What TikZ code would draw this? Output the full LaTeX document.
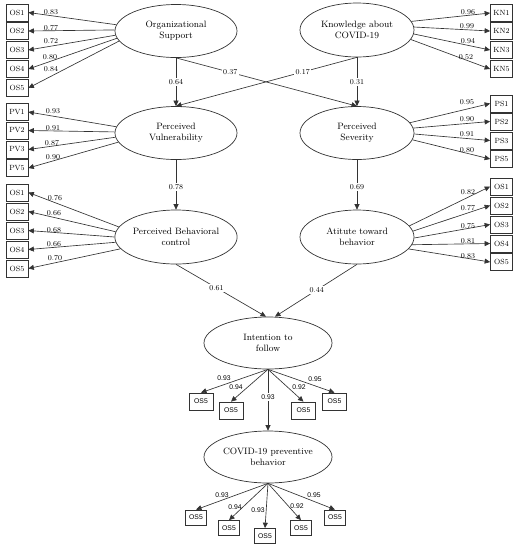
\documentclass[tikz,border=0pt]{standalone}
\usepackage{fontspec}
\newfontfamily\sansf{Liberation Sans}
\usetikzlibrary{shapes.geometric,arrows.meta}
\definecolor{ln}{HTML}{333333}
\tikzset{
  lat/.style={draw=ln, line width=0.7pt, ellipse, inner sep=0pt, align=center,
    font=\fontsize{9.2}{11}\selectfont},
  ind/.style={draw=ln, line width=0.7pt, rectangle, inner sep=0pt, minimum width=22pt,
    minimum height=17pt, font=\fontsize{7.5}{8}\selectfont},
  inds/.style={draw=ln, line width=0.7pt, rectangle, inner sep=0pt, minimum width=24pt,
    minimum height=17pt, font=\sansf\fontsize{6.8}{7}\selectfont},
  indt/.style={draw=ln, line width=0.7pt, rectangle, inner sep=0pt, minimum width=21pt,
    minimum height=15pt, font=\sansf\fontsize{6.8}{7}\selectfont},
  arr/.style={draw=ln, line width=0.65pt, -{Triangle[length=5.5pt,width=5pt]}},
  lbl/.style={inner sep=0pt, font=\fontsize{7.5}{8}\selectfont},
  lbls/.style={inner sep=0pt, font=\sansf\fontsize{6.8}{7}\selectfont},
  mid/.style={fill=white, inner sep=1.5pt, font=\fontsize{7.5}{8}\selectfont},
  mids/.style={fill=white, inner sep=1.5pt, font=\sansf\fontsize{6.8}{7}\selectfont},
}
\begin{document}
\begin{tikzpicture}[x=1pt,y=-1pt]
\useasboundingbox (0,0) rectangle (518,550);
% latent variables
\node[lat, minimum width=122pt, minimum height=53pt] (org) at (176,31) {Organizational\\Support};
\node[lat, minimum width=114pt, minimum height=54pt] (kn) at (357,30) {Knowledge about\\COVID-19};
\node[lat, minimum width=122pt, minimum height=53pt] (vul) at (176,133) {Perceived\\Vulnerability};
\node[lat, minimum width=114pt, minimum height=53pt] (sev) at (357,133) {Perceived\\Severity};
\node[lat, minimum width=122pt, minimum height=54pt] (pbc) at (176,237) {Perceived Behavioral\\control};
\node[lat, minimum width=114pt, minimum height=54pt] (att) at (357,237) {Atitute toward\\behavior};
\node[lat, minimum width=128pt, minimum height=52pt] (int) at (268,343) {Intention to\\follow};
\node[lat, minimum width=128pt, minimum height=52pt] (cov) at (268,457) {COVID-19 preventive\\behavior};

% left indicators: organizational support
\node[ind] (os1) at (17,12.5) {OS1};
\node[ind] (os2) at (17,31) {OS2};
\node[ind] (os3) at (17,50) {OS3};
\node[ind] (os4) at (17,69) {OS4};
\node[ind] (os5) at (17,88) {OS5};
% vulnerability
\node[ind] (pv1) at (17,112) {PV1};
\node[ind] (pv2) at (17,130.5) {PV2};
\node[ind] (pv3) at (17,149.5) {PV3};
\node[ind] (pv5) at (17,168) {PV5};
% behavioral control
\node[ind] (bc1) at (17,192.5) {OS1};
\node[ind] (bc2) at (17,211.5) {OS2};
\node[ind] (bc3) at (17,230.5) {OS3};
\node[ind] (bc4) at (17,249.5) {OS4};
\node[ind] (bc5) at (17,268.5) {OS5};
% right indicators: knowledge
\node[ind] (kn1) at (501.5,13) {KN1};
\node[ind] (kn2) at (501.5,31) {KN2};
\node[ind] (kn3) at (501.5,50) {KN3};
\node[ind] (kn5) at (501.5,69) {KN5};
% severity
\node[ind] (ps1) at (501.5,103.5) {PS1};
\node[ind] (ps2) at (501.5,121.5) {PS2};
\node[ind] (ps3) at (501.5,140.5) {PS3};
\node[ind] (ps5) at (501.5,159) {PS5};
% attitude
\node[ind] (at1) at (501.5,186.5) {OS1};
\node[ind] (at2) at (501.5,205.5) {OS2};
\node[ind] (at3) at (501.5,224.5) {OS3};
\node[ind] (at4) at (501.5,243.5) {OS4};
\node[ind] (at5) at (501.5,262) {OS5};
% intention indicators
\node[inds] (in1) at (201,401.5) {OS5};
\node[inds] (in2) at (231,410.5) {OS5};
\node[inds] (in3) at (303.5,410.5) {OS5};
\node[inds] (in4) at (334.5,401.5) {OS5};
% behavior indicators
\node[indt] (cb1) at (196,517.5) {OS5};
\node[indt] (cb2) at (229,528) {OS5};
\node[indt] (cb3) at (265,536) {OS5};
\node[indt] (cb4) at (301,528) {OS5};
\node[indt] (cb5) at (335,517.5) {OS5};

% loadings: organizational support
\draw[arr] (org.174) -- (os1.east);
\draw[arr] (org.179) -- (os2.east);
\draw[arr] (org.184) -- (os3.east);
\draw[arr] (org.187) -- (os4.east);
\draw[arr] (org.190) -- (os5.east);
\node[lbl] at (51,12) {0.83};
\node[lbl] at (51,28) {0.77};
\node[lbl] at (51,41) {0.72};
\node[lbl] at (50,57) {0.80};
\node[lbl] at (51,69) {0.84};
% vulnerability
\draw[arr] (vul.174) -- (pv1.east);
\draw[arr] (vul.179) -- (pv2.east);
\draw[arr] (vul.184) -- (pv3.east);
\draw[arr] (vul.189) -- (pv5.east);
\node[lbl] at (53,111) {0.93};
\node[lbl] at (53,128) {0.91};
\node[lbl] at (52,143) {0.87};
\node[lbl] at (53,157) {0.90};
% behavioral control
\draw[arr] (pbc.170) -- (bc1.east);
\draw[arr] (pbc.175) -- (bc2.east);
\draw[arr] (pbc.180) -- (bc3.east);
\draw[arr] (pbc.185) -- (bc4.east);
\draw[arr] (pbc.192) -- (bc5.east);
\node[lbl] at (55,198) {0.76};
\node[lbl] at (54,213) {0.66};
\node[lbl] at (54,230) {0.68};
\node[lbl] at (54,244) {0.66};
\node[lbl] at (55,258) {0.70};
% knowledge
\draw[arr] (kn.9) -- (kn1.west);
\draw[arr] (kn.3) -- (kn2.west);
\draw[arr] (kn.-4) -- (kn3.west);
\draw[arr] (kn.-10) -- (kn5.west);
\node[lbl] at (468,12) {0.96};
\node[lbl] at (467,26) {0.99};
\node[lbl] at (468,41) {0.94};
\node[lbl] at (466,57) {0.52};
% severity
\draw[arr] (sev.11) -- (ps1.west);
\draw[arr] (sev.5) -- (ps2.west);
\draw[arr] (sev.-1) -- (ps3.west);
\draw[arr] (sev.-7) -- (ps5.west);
\node[lbl] at (467,102) {0.95};
\node[lbl] at (467,119) {0.90};
\node[lbl] at (467,134) {0.91};
\node[lbl] at (467,150) {0.80};
% attitude
\draw[arr] (att.12) -- (at1.west);
\draw[arr] (att.6) -- (at2.west);
\draw[arr] (att.-1) -- (at3.west);
\draw[arr] (att.-8) -- (at4.west);
\draw[arr] (att.-13) -- (at5.west);
\node[lbl] at (468,192) {0.82};
\node[lbl] at (468,208) {0.77};
\node[lbl] at (468,226) {0.75};
\node[lbl] at (468,241) {0.81};
\node[lbl] at (468,256) {0.83};

% structural paths
\draw[arr] (org.south) -- node[mid, pos=0.5] {0.64} (vul.north);
\draw[arr] (org.south) -- node[mid, pos=0.3] {0.37} (sev.north);
\draw[arr] (kn.south) -- node[mid, pos=0.3] {0.17} (vul.north);
\draw[arr] (kn.south) -- node[mid, pos=0.5] {0.31} (sev.north);
\draw[arr] (vul.south) -- node[mid, pos=0.55] {0.78} (pbc.north);
\draw[arr] (sev.south) -- node[mid, pos=0.55] {0.69} (att.north);
\draw[arr] (pbc.south) -- node[mid, pos=0.45] {0.61} ([xshift=-2pt]int.north);
\draw[arr] (att.south) -- node[mid, pos=0.49] {0.44} ([xshift=7pt]int.north);
\draw[arr] (int.south) -- node[mids, pos=0.45] {0.93} (cov.north);

% intention loadings
\draw[arr] (int.south) -- (in1.north);
\draw[arr] (int.south) -- (in2.north);
\draw[arr] (int.south) -- (in3.north);
\draw[arr] (int.south) -- (in4.north);
\node[lbls] at (224,378) {0.93};
\node[lbls] at (236,387) {0.94};
\node[lbls] at (299,387) {0.92};
\node[lbls] at (315,379) {0.95};
% behavior loadings
\draw[arr] (cov.south) -- (cb1.north);
\draw[arr] (cov.south) -- (cb2.north);
\draw[arr] (cov.south) -- (cb3.north);
\draw[arr] (cov.south) -- (cb4.north);
\draw[arr] (cov.south) -- (cb5.north);
\node[lbls] at (222,495) {0.93};
\node[lbls] at (235,507) {0.94};
\node[lbls] at (258,510) {0.93};
\node[lbls] at (297,506) {0.92};
\node[lbls] at (314,495) {0.95};
\end{tikzpicture}
\end{document}
